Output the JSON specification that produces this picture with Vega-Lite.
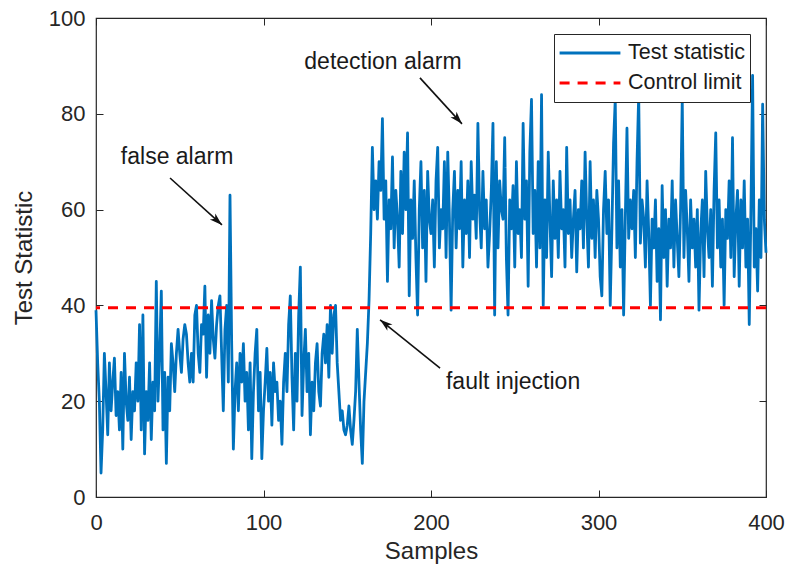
{
  "$schema": "https://vega.github.io/schema/vega-lite/v6.json",
  "width": 670,
  "height": 479,
  "autosize": "none",
  "padding": {"left": 96, "top": 18, "right": 21, "bottom": 78},
  "background": "white",
  "datasets": {
    "ts": [
      {"x":0,"y":39},{"x":1,"y":28},{"x":2,"y":20},{"x":3,"y":5},{"x":4,"y":14},{"x":5,"y":30},{"x":6,"y":22},{"x":7,"y":13},{"x":8,"y":28},{"x":9,"y":18},
      {"x":10,"y":24},{"x":11,"y":29},{"x":12,"y":17},{"x":13,"y":22},{"x":14,"y":14},{"x":15,"y":26},{"x":16,"y":10},{"x":17,"y":30},{"x":18,"y":20},{"x":19,"y":16},
      {"x":20,"y":25},{"x":21,"y":12},{"x":22,"y":22},{"x":23,"y":18},{"x":24,"y":28},{"x":25,"y":20},{"x":26,"y":36},{"x":27,"y":14},{"x":28,"y":38},{"x":29,"y":9},
      {"x":30,"y":22},{"x":31,"y":16},{"x":32,"y":28},{"x":33,"y":12},{"x":34,"y":24},{"x":35,"y":18},{"x":36,"y":45},{"x":37,"y":20},{"x":38,"y":30},{"x":39,"y":43},
      {"x":40,"y":14},{"x":41,"y":26},{"x":42,"y":7},{"x":43,"y":25},{"x":44,"y":18},{"x":45,"y":32},{"x":46,"y":28},{"x":47,"y":22},{"x":48,"y":30},{"x":49,"y":35},
      {"x":50,"y":30},{"x":51,"y":26},{"x":52,"y":33},{"x":53,"y":36},{"x":54,"y":34},{"x":55,"y":28},{"x":56,"y":24},{"x":57,"y":30},{"x":58,"y":24},{"x":59,"y":38},
      {"x":60,"y":40},{"x":61,"y":30},{"x":62,"y":26},{"x":63,"y":36},{"x":64,"y":34},{"x":65,"y":44},{"x":66,"y":25},{"x":67,"y":38},{"x":68,"y":30},{"x":69,"y":41},
      {"x":70,"y":33},{"x":71,"y":29},{"x":72,"y":36},{"x":73,"y":40},{"x":74,"y":42},{"x":75,"y":30},{"x":76,"y":18},{"x":77,"y":35},{"x":78,"y":40},{"x":79,"y":24},
      {"x":80,"y":63},{"x":81,"y":32},{"x":82,"y":10},{"x":83,"y":22},{"x":84,"y":28},{"x":85,"y":18},{"x":86,"y":30},{"x":87,"y":24},{"x":88,"y":32},{"x":89,"y":20},
      {"x":90,"y":26},{"x":91,"y":14},{"x":92,"y":28},{"x":93,"y":8},{"x":94,"y":22},{"x":95,"y":30},{"x":96,"y":35},{"x":97,"y":18},{"x":98,"y":26},{"x":99,"y":8},
      {"x":100,"y":18},{"x":101,"y":24},{"x":102,"y":31},{"x":103,"y":20},{"x":104,"y":26},{"x":105,"y":15},{"x":106,"y":28},{"x":107,"y":22},{"x":108,"y":24},{"x":109,"y":16},
      {"x":110,"y":20},{"x":111,"y":11},{"x":112,"y":24},{"x":113,"y":30},{"x":114,"y":22},{"x":115,"y":36},{"x":116,"y":42},{"x":117,"y":25},{"x":118,"y":14},{"x":119,"y":30},
      {"x":120,"y":20},{"x":121,"y":38},{"x":122,"y":48},{"x":123,"y":17},{"x":124,"y":28},{"x":125,"y":35},{"x":126,"y":22},{"x":127,"y":30},{"x":128,"y":13},{"x":129,"y":24},
      {"x":130,"y":18},{"x":131,"y":28},{"x":132,"y":32},{"x":133,"y":22},{"x":134,"y":19},{"x":135,"y":30},{"x":136,"y":34},{"x":137,"y":28},{"x":138,"y":36},{"x":139,"y":25},
      {"x":140,"y":40},{"x":141,"y":30},{"x":142,"y":38},{"x":143,"y":40},{"x":144,"y":28},{"x":145,"y":22},{"x":146,"y":16},{"x":147,"y":18},{"x":148,"y":14},{"x":149,"y":13},
      {"x":150,"y":15},{"x":151,"y":19},{"x":152,"y":14},{"x":153,"y":11},{"x":154,"y":16},{"x":155,"y":22},{"x":156,"y":35},{"x":157,"y":24},{"x":158,"y":14},{"x":159,"y":7},
      {"x":160,"y":20},{"x":161,"y":26},{"x":162,"y":32},{"x":163,"y":41},{"x":164,"y":55},{"x":165,"y":73},{"x":166,"y":60},{"x":167,"y":66},{"x":168,"y":58},{"x":169,"y":70},
      {"x":170,"y":64},{"x":171,"y":79},{"x":172,"y":58},{"x":173,"y":66},{"x":174,"y":45},{"x":175,"y":62},{"x":176,"y":56},{"x":177,"y":71},{"x":178,"y":52},{"x":179,"y":64},
      {"x":180,"y":58},{"x":181,"y":48},{"x":182,"y":68},{"x":183,"y":55},{"x":184,"y":72},{"x":185,"y":60},{"x":186,"y":76},{"x":187,"y":42},{"x":188,"y":62},{"x":189,"y":54},
      {"x":190,"y":66},{"x":191,"y":50},{"x":192,"y":38},{"x":193,"y":60},{"x":194,"y":70},{"x":195,"y":52},{"x":196,"y":64},{"x":197,"y":45},{"x":198,"y":68},{"x":199,"y":58},
      {"x":200,"y":55},{"x":201,"y":62},{"x":202,"y":48},{"x":203,"y":66},{"x":204,"y":73},{"x":205,"y":52},{"x":206,"y":60},{"x":207,"y":56},{"x":208,"y":70},{"x":209,"y":50},
      {"x":210,"y":72},{"x":211,"y":58},{"x":212,"y":39},{"x":213,"y":60},{"x":214,"y":68},{"x":215,"y":52},{"x":216,"y":64},{"x":217,"y":56},{"x":218,"y":70},{"x":219,"y":48},
      {"x":220,"y":62},{"x":221,"y":55},{"x":222,"y":66},{"x":223,"y":50},{"x":224,"y":70},{"x":225,"y":58},{"x":226,"y":63},{"x":227,"y":54},{"x":228,"y":78},{"x":229,"y":60},
      {"x":230,"y":52},{"x":231,"y":68},{"x":232,"y":56},{"x":233,"y":62},{"x":234,"y":48},{"x":235,"y":55},{"x":236,"y":64},{"x":237,"y":78},{"x":238,"y":38},{"x":239,"y":70},
      {"x":240,"y":52},{"x":241,"y":66},{"x":242,"y":60},{"x":243,"y":58},{"x":244,"y":75},{"x":245,"y":50},{"x":246,"y":38},{"x":247,"y":62},{"x":248,"y":56},{"x":249,"y":65},
      {"x":250,"y":48},{"x":251,"y":70},{"x":252,"y":55},{"x":253,"y":60},{"x":254,"y":50},{"x":255,"y":78},{"x":256,"y":58},{"x":257,"y":66},{"x":258,"y":44},{"x":259,"y":72},
      {"x":260,"y":83},{"x":261,"y":55},{"x":262,"y":64},{"x":263,"y":48},{"x":264,"y":70},{"x":265,"y":52},{"x":266,"y":84},{"x":267,"y":40},{"x":268,"y":62},{"x":269,"y":50},
      {"x":270,"y":72},{"x":271,"y":58},{"x":272,"y":46},{"x":273,"y":66},{"x":274,"y":54},{"x":275,"y":62},{"x":276,"y":50},{"x":277,"y":68},{"x":278,"y":56},{"x":279,"y":60},
      {"x":280,"y":48},{"x":281,"y":73},{"x":282,"y":55},{"x":283,"y":62},{"x":284,"y":50},{"x":285,"y":58},{"x":286,"y":64},{"x":287,"y":47},{"x":288,"y":60},{"x":289,"y":56},
      {"x":290,"y":66},{"x":291,"y":52},{"x":292,"y":72},{"x":293,"y":58},{"x":294,"y":48},{"x":295,"y":70},{"x":296,"y":54},{"x":297,"y":62},{"x":298,"y":50},{"x":299,"y":64},
      {"x":300,"y":58},{"x":301,"y":46},{"x":302,"y":42},{"x":303,"y":60},{"x":304,"y":68},{"x":305,"y":55},{"x":306,"y":62},{"x":307,"y":40},{"x":308,"y":56},{"x":309,"y":74},
      {"x":310,"y":83},{"x":311,"y":52},{"x":312,"y":66},{"x":313,"y":48},{"x":314,"y":60},{"x":315,"y":38},{"x":316,"y":58},{"x":317,"y":77},{"x":318,"y":54},{"x":319,"y":62},
      {"x":320,"y":56},{"x":321,"y":64},{"x":322,"y":50},{"x":323,"y":70},{"x":324,"y":84},{"x":325,"y":53},{"x":326,"y":62},{"x":327,"y":58},{"x":328,"y":48},{"x":329,"y":66},
      {"x":330,"y":55},{"x":331,"y":40},{"x":332,"y":58},{"x":333,"y":52},{"x":334,"y":62},{"x":335,"y":45},{"x":336,"y":56},{"x":337,"y":37},{"x":338,"y":65},{"x":339,"y":50},
      {"x":340,"y":60},{"x":341,"y":44},{"x":342,"y":58},{"x":343,"y":52},{"x":344,"y":66},{"x":345,"y":48},{"x":346,"y":62},{"x":347,"y":54},{"x":348,"y":46},{"x":349,"y":60},
      {"x":350,"y":83},{"x":351,"y":50},{"x":352,"y":64},{"x":353,"y":56},{"x":354,"y":45},{"x":355,"y":62},{"x":356,"y":52},{"x":357,"y":58},{"x":358,"y":48},{"x":359,"y":60},
      {"x":360,"y":39},{"x":361,"y":55},{"x":362,"y":62},{"x":363,"y":46},{"x":364,"y":68},{"x":365,"y":56},{"x":366,"y":50},{"x":367,"y":60},{"x":368,"y":44},{"x":369,"y":64},
      {"x":370,"y":76},{"x":371,"y":52},{"x":372,"y":62},{"x":373,"y":48},{"x":374,"y":58},{"x":375,"y":40},{"x":376,"y":60},{"x":377,"y":54},{"x":378,"y":66},{"x":379,"y":50},
      {"x":380,"y":75},{"x":381,"y":46},{"x":382,"y":58},{"x":383,"y":64},{"x":384,"y":44},{"x":385,"y":62},{"x":386,"y":52},{"x":387,"y":66},{"x":388,"y":48},{"x":389,"y":58},
      {"x":390,"y":36},{"x":391,"y":60},{"x":392,"y":88},{"x":393,"y":48},{"x":394,"y":56},{"x":395,"y":43},{"x":396,"y":62},{"x":397,"y":50},{"x":398,"y":82},{"x":399,"y":58},
      {"x":400,"y":51}
    ],
    "arrows": [
      {"label":"false alarm","x1":44.2,"y1":66.6,"x2":75.2,"y2":56.8},
      {"label":"detection alarm","x1":193.4,"y1":87.5,"x2":218.5,"y2":77.9},
      {"label":"fault injection","x1":205.4,"y1":26.9,"x2":169.6,"y2":37.0}
    ],
    "notes": [
      {"label":"false alarm","x":48.4,"y":71},
      {"label":"detection alarm","x":171.3,"y":90.8},
      {"label":"fault injection","x":249,"y":24}
    ]
  },
  "config": {
    "view": {"stroke": "#262626", "strokeWidth": 1.2},
    "font": "Liberation Sans",
    "axis": {
      "grid": false,
      "domain": false,
      "labelFlush": false,
      "tickColor": "#262626",
      "tickSize": -7,
      "tickWidth": 1,
      "labelFontSize": 22,
      "labelColor": "#262626",
      "titleFontSize": 24,
      "titleFontWeight": "normal",
      "titleColor": "#262626"
    },
    "legend": {
      "orient": "top-right",
      "offset": 16,
      "strokeColor": "#262626",
      "fillColor": "white",
      "padding": 4,
      "symbolType": "stroke",
      "symbolSize": 3700,
      "symbolStrokeWidth": 3,
      "clipHeight": 30,
      "labelFontSize": 21.5,
      "labelColor": "#1a1a1a",
      "labelOffset": 6,
      "rowPadding": 0
    }
  },
  "resolve": {"axis": {"x": "independent", "y": "independent"}},
  "layer": [
    {
      "data": {"name": "ts"},
      "mark": {"type": "line", "strokeWidth": 2.8, "strokeJoin": "round"},
      "encoding": {
        "x": {"field": "x", "type": "quantitative", "scale": {"domain": [0, 400], "nice": false},
              "axis": {"values": [0, 100, 200, 300, 400], "title": "Samples", "labelPadding": 22, "titlePadding": 6}},
        "y": {"field": "y", "type": "quantitative", "scale": {"domain": [0, 100], "nice": false},
              "axis": {"values": [0, 20, 40, 60, 80, 100], "title": "Test Statistic", "labelPadding": 18, "titlePadding": 12}},
        "color": {"datum": "Test statistic", "type": "nominal",
                  "scale": {"domain": ["Test statistic", "Control limit"], "range": ["#0072BD", "#FF0000"]},
                  "legend": {"title": null}},
        "strokeDash": {"datum": "Test statistic", "type": "nominal",
                  "scale": {"domain": ["Test statistic", "Control limit"], "range": [[1, 0], [10, 8]]},
                  "legend": {"title": null}}
      }
    },
    {
      "data": {"values": [{"limit": 39.5}]},
      "mark": {"type": "rule", "strokeWidth": 3},
      "encoding": {
        "y": {"field": "limit", "type": "quantitative", "axis": null},
        "color": {"datum": "Control limit", "type": "nominal"},
        "strokeDash": {"datum": "Control limit", "type": "nominal"}
      }
    },
    {
      "data": {"name": "arrows"},
      "mark": {"type": "rule", "color": "#111111", "strokeWidth": 1.6},
      "encoding": {
        "x": {"field": "x1", "type": "quantitative",
              "axis": {"orient": "top", "values": [0, 100, 200, 300, 400], "labels": false, "title": null}},
        "y": {"field": "y1", "type": "quantitative",
              "axis": {"orient": "right", "values": [0, 20, 40, 60, 80, 100], "labels": false, "title": null}},
        "x2": {"field": "x2"},
        "y2": {"field": "y2"}
      }
    },
    {
      "data": {"name": "arrows"},
      "transform": [{"filter": "datum.label === 'false alarm'"}],
      "mark": {"type": "point", "shape": "M0,0L0.55,1.7L0,1.25L-0.55,1.7Z", "filled": true, "color": "#111111", "size": 220, "angle": 132, "opacity": 1},
      "encoding": {
        "x": {"field": "x2", "type": "quantitative", "axis": null},
        "y": {"field": "y2", "type": "quantitative", "axis": null}
      }
    },
    {
      "data": {"name": "arrows"},
      "transform": [{"filter": "datum.label === 'detection alarm'"}],
      "mark": {"type": "point", "shape": "M0,0L0.55,1.7L0,1.25L-0.55,1.7Z", "filled": true, "color": "#111111", "size": 220, "angle": 137.6, "opacity": 1},
      "encoding": {
        "x": {"field": "x2", "type": "quantitative", "axis": null},
        "y": {"field": "y2", "type": "quantitative", "axis": null}
      }
    },
    {
      "data": {"name": "arrows"},
      "transform": [{"filter": "datum.label === 'fault injection'"}],
      "mark": {"type": "point", "shape": "M0,0L0.55,1.7L0,1.25L-0.55,1.7Z", "filled": true, "color": "#111111", "size": 220, "angle": 308.7, "opacity": 1},
      "encoding": {
        "x": {"field": "x2", "type": "quantitative", "axis": null},
        "y": {"field": "y2", "type": "quantitative", "axis": null}
      }
    },
    {
      "data": {"name": "notes"},
      "mark": {"type": "text", "fontSize": 23, "color": "#1a1a1a", "align": "center", "baseline": "middle"},
      "encoding": {
        "x": {"field": "x", "type": "quantitative", "axis": null},
        "y": {"field": "y", "type": "quantitative", "axis": null},
        "text": {"field": "label"}
      }
    }
  ]
}
